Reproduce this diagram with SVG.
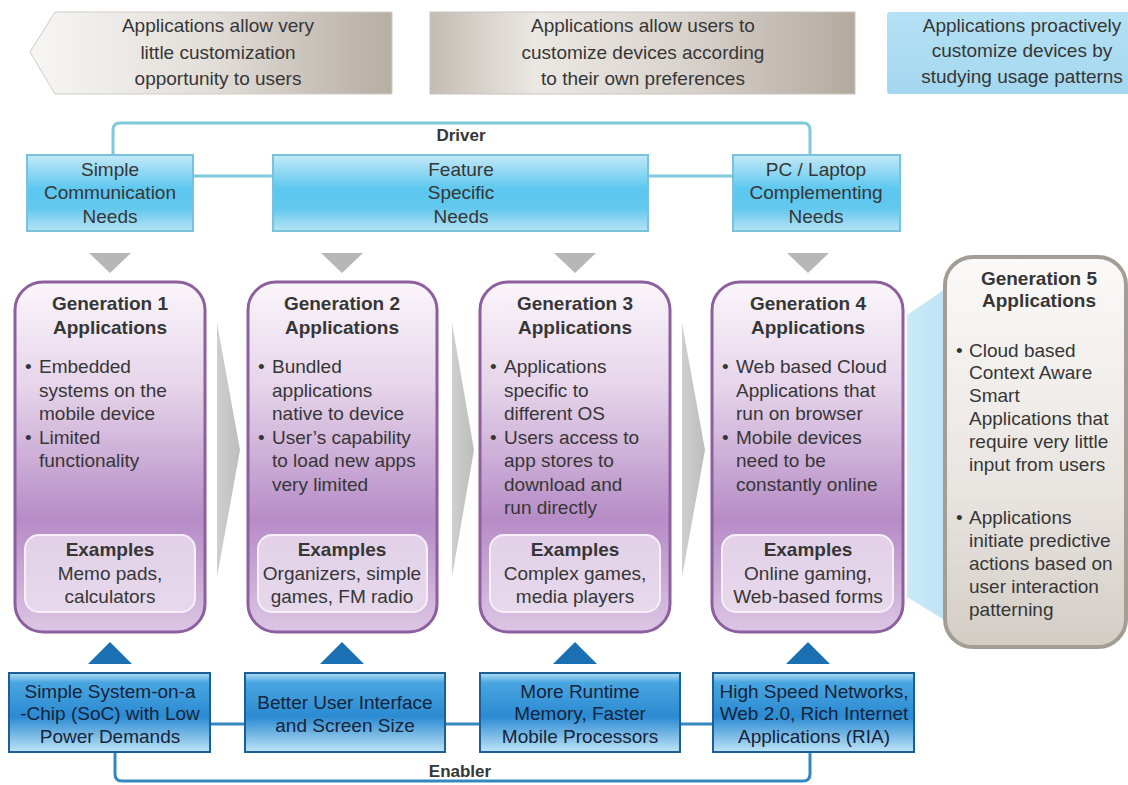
<svg xmlns="http://www.w3.org/2000/svg" width="1128" height="785" viewBox="0 0 1128 785">
<defs>
<linearGradient id="gBan1" x1="0" y1="0" x2="1" y2="0"><stop offset="0" stop-color="#f7f6f4"/><stop offset="0.5" stop-color="#e2ded9"/><stop offset="1" stop-color="#b6ada3"/></linearGradient>
<linearGradient id="gBan2" x1="0" y1="0" x2="1" y2="0"><stop offset="0" stop-color="#c4bcb3"/><stop offset="0.25" stop-color="#ebe8e4"/><stop offset="0.6" stop-color="#d9d3cd"/><stop offset="1" stop-color="#b3a99f"/></linearGradient>
<linearGradient id="gBan3" x1="0" y1="0" x2="0" y2="1"><stop offset="0" stop-color="#b5e1f4"/><stop offset="1" stop-color="#a3d7ef"/></linearGradient>
<linearGradient id="gDrv" x1="0" y1="0" x2="0" y2="1"><stop offset="0" stop-color="#c4e9f7"/><stop offset="0.45" stop-color="#5cc7ef"/><stop offset="0.7" stop-color="#62c8ee"/><stop offset="1" stop-color="#b7e3f4"/></linearGradient>
<linearGradient id="gEn" x1="0" y1="0" x2="0" y2="1"><stop offset="0" stop-color="#b3def6"/><stop offset="0.12" stop-color="#4aa6e0"/><stop offset="0.55" stop-color="#2b8ad2"/><stop offset="1" stop-color="#bfe3f6"/></linearGradient>
<linearGradient id="gGen" x1="0" y1="0" x2="0" y2="1"><stop offset="0" stop-color="#fbf6fb"/><stop offset="0.3" stop-color="#e6d4ea"/><stop offset="0.68" stop-color="#b68cc6"/><stop offset="1" stop-color="#dcc6e4"/></linearGradient>
<linearGradient id="gGen5" x1="0" y1="0" x2="0" y2="1"><stop offset="0" stop-color="#fbfaf9"/><stop offset="0.6" stop-color="#e8e4e0"/><stop offset="1" stop-color="#d4cdc6"/></linearGradient>
<linearGradient id="gSpot" x1="0" y1="0" x2="1" y2="0"><stop offset="0" stop-color="#c9e9f7"/><stop offset="1" stop-color="#b3def3"/></linearGradient>
<linearGradient id="gChev" x1="0" y1="0" x2="1" y2="0"><stop offset="0" stop-color="#cfcfcf"/><stop offset="1" stop-color="#bdbdbd"/></linearGradient>
</defs>
<style>
text{font-family:"Liberation Sans",Arial,sans-serif;fill:#363636;font-size:19px}
.c{text-anchor:middle}
.b{font-weight:bold}
.gen{fill:url(#gGen);stroke:#8d5f9e;stroke-width:3}
.ex{fill:#ebe0ef;fill-opacity:0.8;stroke:#f6eff8;stroke-width:2}
.drv{fill:url(#gDrv);stroke:#78c3dc;stroke-width:2}
.en{fill:url(#gEn);stroke:#1c5f95;stroke-width:2}
.dt{fill:#b7b7b7}
.ut{fill:#1b70b3}
.chev{fill:url(#gChev)}
.dline{fill:none;stroke:#80c8dc;stroke-width:3}
.eline{fill:none;stroke:#3487bf;stroke-width:3}
.et{fill:#14243a}
</style>

<g id="banner1">
<polygon points="30,52 55,12 392,12 392,94 55,94" fill="url(#gBan1)" stroke="#d2ccc5" stroke-width="1"/>
<text class="c" x="218" y="32">Applications allow very</text>
<text class="c" x="218" y="59">little customization</text>
<text class="c" x="218" y="85">opportunity to users</text>
</g>
<g id="banner2">
<rect x="430" y="12" width="425" height="82" fill="url(#gBan2)" stroke="#cbc4bd" stroke-width="1"/>
<text class="c" x="643" y="32">Applications allow users to</text>
<text class="c" x="643" y="59">customize devices according</text>
<text class="c" x="643" y="85">to their own preferences</text>
</g>
<g id="banner3">
<rect x="887" y="12" width="260" height="82" rx="3" fill="url(#gBan3)"/>
<text class="c" x="1022" y="32">Applications proactively</text>
<text class="c" x="1022" y="57">customize devices by</text>
<text class="c" x="1022" y="83">studying usage patterns</text>
</g>

<g id="connectors">
<path class="dline" d="M113,155 V130 Q113,123 120,123 H803 Q810,123 810,130 V155"/>
<line class="dline" x1="193" y1="176" x2="273" y2="176"/>
<line class="dline" x1="648" y1="176" x2="733" y2="176"/>
<path class="eline" d="M115,752 V774 Q115,781 122,781 H803 Q810,781 810,774 V752"/>
<line class="eline" x1="210" y1="724" x2="245" y2="724"/>
<line class="eline" x1="445" y1="724" x2="480" y2="724"/>
<line class="eline" x1="680" y1="724" x2="713" y2="724"/>
<polygon class="dt" points="89,253 131,253 110,273"/>
<polygon class="dt" points="321,253 363,253 342,273"/>
<polygon class="dt" points="554,253 596,253 575,273"/>
<polygon class="dt" points="787,253 829,253 808,273"/>
<polygon class="ut" points="110,642 132,664 88,664"/>
<polygon class="ut" points="342,642 364,664 320,664"/>
<polygon class="ut" points="575,642 597,664 553,664"/>
<polygon class="ut" points="808,642 830,664 786,664"/>
<polygon class="chev" points="217,323 240,450 217,577"/>
<polygon class="chev" points="452,323 474,450 452,577"/>
<polygon class="chev" points="682,323 705,450 682,577"/>
<polygon points="907,315 985,262 985,645 907,597" fill="url(#gSpot)"/>
<text class="b c" x="461" y="141" style="font-size:17px">Driver</text>
<text class="b c" x="460" y="777" style="font-size:17px">Enabler</text>
</g>

<g id="driver1">
<rect class="drv" x="27" y="155" width="166" height="76"/>
<text class="c" x="110" y="176">Simple</text>
<text class="c" x="110" y="199">Communication</text>
<text class="c" x="110" y="223">Needs</text>
</g>
<g id="driver2">
<rect class="drv" x="273" y="155" width="375" height="76"/>
<text class="c" x="461" y="176">Feature</text>
<text class="c" x="461" y="199">Specific</text>
<text class="c" x="461" y="223">Needs</text>
</g>
<g id="driver3">
<rect class="drv" x="733" y="155" width="167" height="76"/>
<text class="c" x="816" y="176">PC / Laptop</text>
<text class="c" x="816" y="199">Complementing</text>
<text class="c" x="816" y="223">Needs</text>
</g>

<g id="gen1">
<rect class="gen" x="15" y="282" width="190" height="350" rx="28"/>
<text class="b c" x="110" y="310">Generation 1</text>
<text class="b c" x="110" y="334">Applications</text>
<text x="25" y="373">•</text><text x="39" y="373">Embedded</text>
<text x="39" y="396.5">systems on the</text>
<text x="39" y="420">mobile device</text>
<text x="25" y="443.5">•</text><text x="39" y="443.5">Limited</text>
<text x="39" y="467">functionality</text>
<rect class="ex" x="25" y="535" width="170" height="77" rx="14"/>
<text class="b c" x="110" y="556">Examples</text>
<text class="c" x="110" y="580">Memo pads,</text>
<text class="c" x="110" y="603">calculators</text>
</g>
<g id="gen2">
<rect class="gen" x="248" y="282" width="189" height="350" rx="28"/>
<text class="b c" x="342" y="310">Generation 2</text>
<text class="b c" x="342" y="334">Applications</text>
<text x="258" y="373">•</text><text x="272" y="373">Bundled</text>
<text x="272" y="396.5">applications</text>
<text x="272" y="420">native to device</text>
<text x="258" y="443.5">•</text><text x="272" y="443.5">User’s capability</text>
<text x="272" y="467">to load new apps</text>
<text x="272" y="490.5">very limited</text>
<rect class="ex" x="258" y="535" width="169" height="77" rx="14"/>
<text class="b c" x="342" y="556">Examples</text>
<text class="c" x="342" y="580">Organizers, simple</text>
<text class="c" x="342" y="603">games, FM radio</text>
</g>
<g id="gen3">
<rect class="gen" x="480" y="282" width="190" height="350" rx="28"/>
<text class="b c" x="575" y="310">Generation 3</text>
<text class="b c" x="575" y="334">Applications</text>
<text x="490" y="373">•</text><text x="504" y="373">Applications</text>
<text x="504" y="396.5">specific to</text>
<text x="504" y="420">different OS</text>
<text x="490" y="443.5">•</text><text x="504" y="443.5">Users access to</text>
<text x="504" y="467">app stores to</text>
<text x="504" y="490.5">download and</text>
<text x="504" y="514">run directly</text>
<rect class="ex" x="490" y="535" width="170" height="77" rx="14"/>
<text class="b c" x="575" y="556">Examples</text>
<text class="c" x="575" y="580">Complex games,</text>
<text class="c" x="575" y="603">media players</text>
</g>
<g id="gen4">
<rect class="gen" x="712" y="282" width="191" height="350" rx="28"/>
<text class="b c" x="808" y="310">Generation 4</text>
<text class="b c" x="808" y="334">Applications</text>
<text x="722" y="373">•</text><text x="736" y="373">Web based Cloud</text>
<text x="736" y="396.5">Applications that</text>
<text x="736" y="420">run on browser</text>
<text x="722" y="443.5">•</text><text x="736" y="443.5">Mobile devices</text>
<text x="736" y="467">need to be</text>
<text x="736" y="490.5">constantly online</text>
<rect class="ex" x="722" y="535" width="171" height="77" rx="14"/>
<text class="b c" x="808" y="556">Examples</text>
<text class="c" x="808" y="580">Online gaming,</text>
<text class="c" x="808" y="603">Web-based  forms</text>
</g>
<g id="gen5">
<rect x="945" y="257" width="181" height="390" rx="28" fill="url(#gGen5)" stroke="#a49d96" stroke-width="4"/>
<text class="b c" x="1039" y="285">Generation 5</text>
<text class="b c" x="1039" y="307">Applications</text>
<text x="956" y="357">•</text><text x="969" y="357">Cloud based</text>
<text x="969" y="379">Context Aware</text>
<text x="969" y="402">Smart</text>
<text x="969" y="425">Applications that</text>
<text x="969" y="448">require very little</text>
<text x="969" y="471">input from users</text>
<text x="956" y="524">•</text><text x="969" y="524">Applications</text>
<text x="969" y="547">initiate predictive</text>
<text x="969" y="570">actions based on</text>
<text x="969" y="593">user interaction</text>
<text x="969" y="616">patterning</text>
</g>

<g id="enabler1">
<rect class="en" x="9" y="673" width="201" height="79"/>
<text class="c et" x="110" y="698">Simple System-on-a</text>
<text class="c et" x="110" y="720">-Chip  (SoC) with Low</text>
<text class="c et" x="110" y="743">Power Demands</text>
</g>
<g id="enabler2">
<rect class="en" x="245" y="673" width="200" height="79"/>
<text class="c et" x="345" y="709">Better User Interface</text>
<text class="c et" x="345" y="732">and Screen Size</text>
</g>
<g id="enabler3">
<rect class="en" x="480" y="673" width="200" height="79"/>
<text class="c et" x="580" y="698">More Runtime</text>
<text class="c et" x="580" y="720">Memory, Faster</text>
<text class="c et" x="580" y="743">Mobile Processors</text>
</g>
<g id="enabler4">
<rect class="en" x="713" y="673" width="201" height="79"/>
<text class="c et" x="814" y="698">High Speed Networks,</text>
<text class="c et" x="814" y="720">Web 2.0, Rich Internet</text>
<text class="c et" x="814" y="743">Applications (RIA)</text>
</g>
</svg>
